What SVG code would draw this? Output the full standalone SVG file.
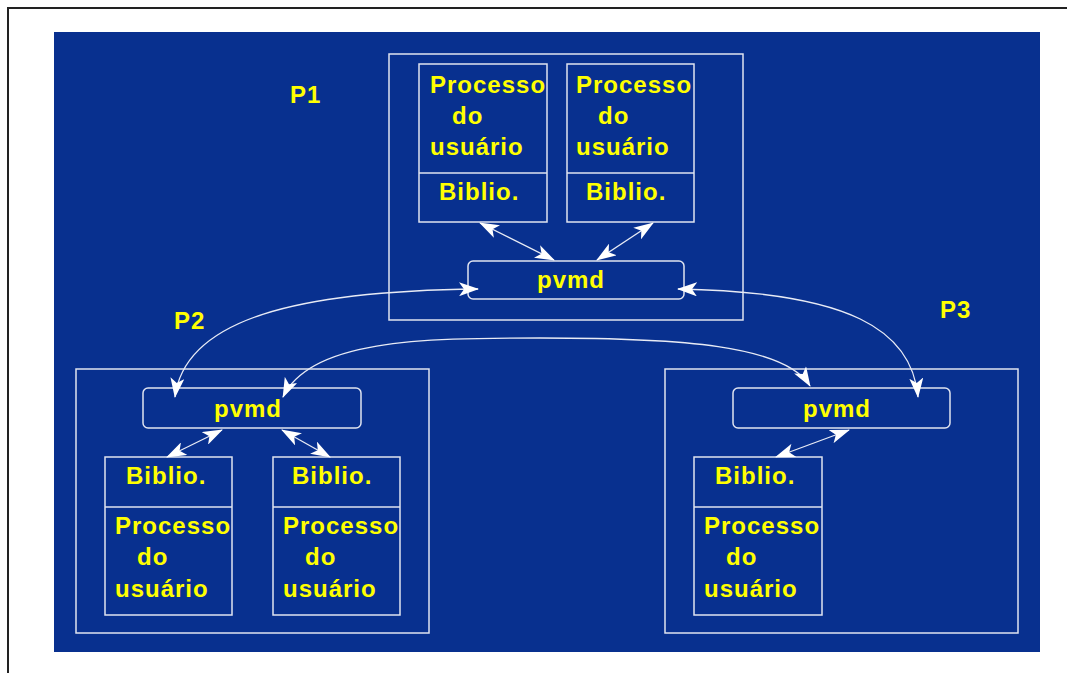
<svg xmlns="http://www.w3.org/2000/svg" width="1067" height="673" viewBox="0 0 1067 673">
<style>
.bx{fill:none;stroke:#dfe3f0;stroke-width:1.5}
.t{font-family:"Liberation Sans",Arial,sans-serif;font-weight:bold;font-size:24px;fill:#ffff00;letter-spacing:1px}
.c{fill:none;stroke:#e8ebf5;stroke-width:1.3}
</style>
<defs>
<marker id="ah" viewBox="0 0 20 14" refX="19" refY="7" markerWidth="20" markerHeight="14" markerUnits="userSpaceOnUse" orient="auto-start-reverse">
<path d="M0,0 L20,7 L0,14 L5,7 z" fill="#ffffff"/>
</marker>
</defs>
<rect x="0" y="0" width="1067" height="673" fill="#ffffff"/>
<path d="M8,673 V8 H1067" fill="none" stroke="#222" stroke-width="2"/>
<rect x="54" y="32" width="986" height="620" fill="#08308f"/>

<g id="P1">
<rect class="bx" x="389" y="54" width="354" height="266"/>
<text class="t" x="290" y="103">P1</text>
</g>
<g id="P1-proc1">
<rect class="bx" x="419" y="64" width="128" height="158"/>
<line class="bx" x1="419" y1="173" x2="547" y2="173"/>
<text class="t" x="430" y="93">Processo</text>
<text class="t" x="452" y="124">do</text>
<text class="t" x="430" y="155">usuário</text>
<text class="t" x="439" y="200">Biblio.</text>
</g>
<g id="P1-proc2">
<rect class="bx" x="567" y="64" width="127" height="158"/>
<line class="bx" x1="567" y1="173" x2="694" y2="173"/>
<text class="t" x="576" y="93">Processo</text>
<text class="t" x="598" y="124">do</text>
<text class="t" x="576" y="155">usuário</text>
<text class="t" x="586" y="200">Biblio.</text>
</g>
<g id="P1-pvmd">
<rect class="bx" x="468" y="261" width="216" height="38" rx="5"/>
<text class="t" x="537" y="288">pvmd</text>
</g>

<g id="P2">
<rect class="bx" x="76" y="369" width="353" height="264"/>
<text class="t" x="174" y="329">P2</text>
</g>
<g id="P2-pvmd">
<rect class="bx" x="143" y="388" width="218" height="40" rx="5"/>
<text class="t" x="214" y="417">pvmd</text>
</g>
<g id="P2-proc1">
<rect class="bx" x="105" y="457" width="127" height="158"/>
<line class="bx" x1="105" y1="507" x2="232" y2="507"/>
<text class="t" x="126" y="484">Biblio.</text>
<text class="t" x="115" y="534">Processo</text>
<text class="t" x="137" y="565">do</text>
<text class="t" x="115" y="597">usuário</text>
</g>
<g id="P2-proc2">
<rect class="bx" x="273" y="457" width="127" height="158"/>
<line class="bx" x1="273" y1="507" x2="400" y2="507"/>
<text class="t" x="292" y="484">Biblio.</text>
<text class="t" x="283" y="534">Processo</text>
<text class="t" x="305" y="565">do</text>
<text class="t" x="283" y="597">usuário</text>
</g>

<g id="P3">
<rect class="bx" x="665" y="369" width="353" height="264"/>
<text class="t" x="940" y="318">P3</text>
</g>
<g id="P3-pvmd">
<rect class="bx" x="733" y="388" width="217" height="40" rx="5"/>
<text class="t" x="803" y="417">pvmd</text>
</g>
<g id="P3-proc1">
<rect class="bx" x="694" y="457" width="128" height="158"/>
<line class="bx" x1="694" y1="507" x2="822" y2="507"/>
<text class="t" x="715" y="484">Biblio.</text>
<text class="t" x="704" y="534">Processo</text>
<text class="t" x="726" y="565">do</text>
<text class="t" x="704" y="597">usuário</text>
</g>

<g id="connectors">
<line class="c" x1="480" y1="223" x2="554" y2="260" marker-start="url(#ah)" marker-end="url(#ah)"/>
<line class="c" x1="653" y1="223" x2="597" y2="260" marker-start="url(#ah)" marker-end="url(#ah)"/>
<line class="c" x1="167" y1="457" x2="222" y2="430" marker-start="url(#ah)" marker-end="url(#ah)"/>
<line class="c" x1="330" y1="457" x2="282" y2="430" marker-start="url(#ah)" marker-end="url(#ah)"/>
<line class="c" x1="776" y1="457" x2="849" y2="430" marker-start="url(#ah)" marker-end="url(#ah)"/>
<path class="c" d="M478,289 C300,291 185,318 175,397" marker-start="url(#ah)" marker-end="url(#ah)"/>
<path class="c" d="M678,289 C850,292 912,330 918,397" marker-start="url(#ah)" marker-end="url(#ah)"/>
<path class="c" d="M283,397 C310,340 420,338 540,338 C680,338 785,345 810,386" marker-start="url(#ah)" marker-end="url(#ah)"/>
</g>
</svg>
